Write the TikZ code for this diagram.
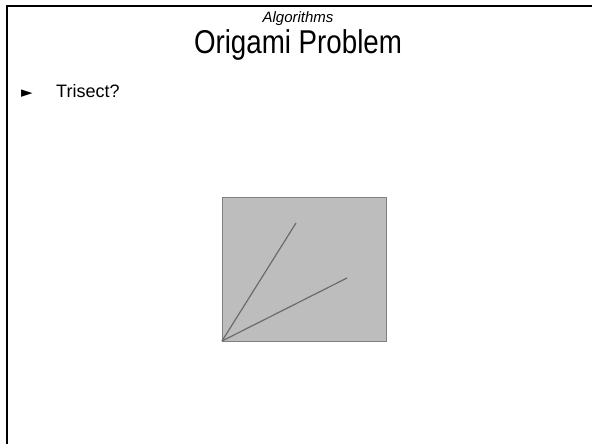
\documentclass[tikz,border=0pt]{standalone}
\usepackage{fontspec}
\setmainfont{Liberation Sans}
\newfontfamily\narrowfont[FakeStretch=0.84]{Liberation Sans}
\newfontfamily\symfont{DejaVu Sans}
\begin{document}
\begin{tikzpicture}[x=1pt,y=-1pt,
  frameline/.style={line width=2.2pt,black},
  fold/.style={line width=1.2pt,draw=black!58}]
\useasboundingbox (0,0) rectangle (592,444);
\fill[white] (0,0) rectangle (592,444);
\draw[frameline] (7,444) -- (7,6) -- (592,6);
\node[font=\itshape\fontsize{15}{18}\selectfont, anchor=base] (sub) at (298,23) {Algorithms};
\node[font=\narrowfont\fontsize{33}{38}\selectfont, anchor=base] (title) at (298,54) {Origami Problem};
\node[font=\symfont\fontsize{15}{17}\selectfont, anchor=base west, inner sep=0pt] (bul) at (21,97) {►};
\node[font=\fontsize{18}{21}\selectfont, anchor=base west, inner sep=0pt] (item) at (56,97) {Trisect?};
\draw[draw=black!50, fill=black!26, line width=0.8pt] (222,197) rectangle (386,341);
\coordinate (o) at (222,341);
\coordinate (a) at (296,223);
\coordinate (b) at (347,278);
\draw[fold] (o) -- (a);
\draw[fold] (o) -- (b);
\end{tikzpicture}
\end{document}
